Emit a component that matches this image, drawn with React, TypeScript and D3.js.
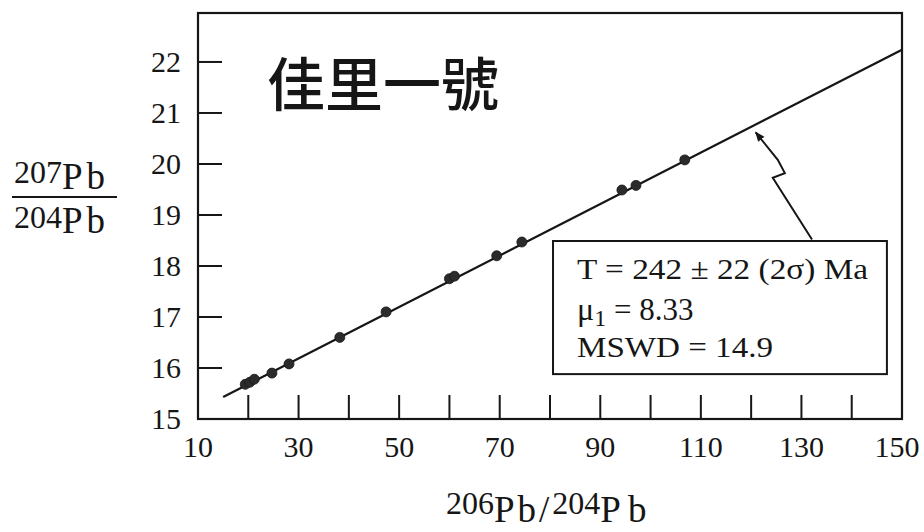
import React from "react";
import * as d3 from "d3";

// ---- data ----
const ratio206: number[] = [19.4, 20.3, 21.2, 24.7, 28.1, 38.2, 47.4, 60.0, 61.0, 69.4, 74.4, 94.3, 97.1, 106.8];
const ratio207: number[] = [15.68, 15.72, 15.78, 15.9, 16.08, 16.6, 17.1, 17.75, 17.8, 18.2, 18.47, 19.49, 19.58, 20.08];
const fitX: number[] = [15, 150];
const fitY: number[] = [15.43, 22.24];
const xTickMarks: number[] = [20, 30, 40, 50, 60, 70, 80, 90, 100, 110, 120, 130, 140];
const xTickLabels: number[] = [10, 30, 50, 70, 90, 110, 130, 150];
const yTickMarks: number[] = [16, 17, 18, 19, 20, 21, 22];
const yTickLabels: number[] = [15, 16, 17, 18, 19, 20, 21, 22];
const titleText = "佳里一號";
const statLines: string[] = ["T = 242 ± 22 (2σ) Ma", "μ", "MSWD = 14.9"];
// leader line from box to regression line (data coords)
const leaderX: number[] = [132.1, 124.3, 126.7, 125.3, 120.9];
const leaderY: number[] = [18.52, 19.73, 19.82, 20.08, 20.62];
// stat box extents (data coords)
const boxX: number[] = [80.6, 147.0];
const boxY: number[] = [18.49, 15.88];

const serif = "'Liberation Serif', 'DejaVu Serif', serif";
const ink = "#161616";

export default function App() {
  const x = d3.scaleLinear().domain([10, 150]).range([198, 902]);
  const y = d3.scaleLinear().domain([15, 22.96]).range([419, 13]);

  const fitLine = d3
    .line<number>()
    .x((_, i) => x(fitX[i]))
    .y((_, i) => y(fitY[i]))(fitX);

  const leader = d3
    .line<number>()
    .x((_, i) => x(leaderX[i]))
    .y((_, i) => y(leaderY[i]))(leaderX);

  const bx0 = x(boxX[0]);
  const bx1 = x(boxX[1]);
  const by0 = y(boxY[0]);
  const by1 = y(boxY[1]);

  return (
    <svg
      width={924}
      height={532}
      style={{ position: "absolute", left: 0, top: 0, background: "#fff" }}
    >
      <defs>
        <marker
          id="arr"
          viewBox="0 0 10 10"
          refX="9"
          refY="5"
          markerWidth="5"
          markerHeight="5"
          orient="auto"
        >
          <path d="M0,1 L10,5 L0,9 z" fill={ink} />
        </marker>
      </defs>

      {/* frame */}
      <rect
        x={x(10)}
        y={y(22.96)}
        width={x(150) - x(10)}
        height={y(15) - y(22.96)}
        fill="none"
        stroke={ink}
        strokeWidth={2.2}
      />

      {/* y ticks */}
      {yTickMarks.map((v) => (
        <line key={"yt" + v} x1={x(10)} x2={x(10) + 24} y1={y(v)} y2={y(v)} stroke={ink} strokeWidth={2} />
      ))}
      {yTickLabels.map((v) => (
        <text
          key={"yl" + v}
          x={181}
          y={y(v) + 10}
          textAnchor="end"
          fontFamily={serif}
          fontSize={30}
          fill={ink}
        >
          {v}
        </text>
      ))}

      {/* x ticks */}
      {xTickMarks.map((v) => (
        <line key={"xt" + v} x1={x(v)} x2={x(v)} y1={y(15)} y2={y(15) - 24} stroke={ink} strokeWidth={2} />
      ))}
      {xTickLabels.map((v) => (
        <text
          key={"xl" + v}
          x={x(v) - (v === 150 ? 5 : 0)}
          y={457}
          textAnchor="middle"
          fontFamily={serif}
          fontSize={30}
          fill={ink}
        >
          {v}
        </text>
      ))}

      {/* regression line */}
      <path d={fitLine ?? ""} fill="none" stroke={ink} strokeWidth={2.2} />

      {/* data points */}
      {ratio206.map((v, i) => (
        <circle key={"p" + i} cx={x(v)} cy={y(ratio207[i])} r={5} fill="#2b2b2b" stroke={ink} strokeWidth={0.8} />
      ))}

      {/* title */}
      <text
        x={267}
        y={106}
        fontFamily="'Noto Sans CJK TC', 'Noto Sans CJK SC', sans-serif"
        fontSize={58}
        fontWeight={500}
        fill={ink}
      >
        {titleText}
      </text>

      {/* leader line */}
      <path d={leader ?? ""} fill="none" stroke={ink} strokeWidth={2} markerEnd="url(#arr)" />

      {/* stat box */}
      <rect x={bx0} y={by0} width={bx1 - bx0} height={by1 - by0} fill="#fff" stroke={ink} strokeWidth={2} />
      <text x={bx0 + 24} y={by0 + 38} fontFamily={serif} fontSize={30} fill={ink} textLength={291} lengthAdjust="spacingAndGlyphs">
        {statLines[0]}
      </text>
      <text x={bx0 + 24} y={by0 + 79} fontFamily={serif} fontSize={32} fill={ink}>
        {statLines[1]}
        <tspan fontSize={24} dy={6}>1</tspan>
        <tspan dy={-6} fontSize={31}> = 8.33</tspan>
      </text>
      <text x={bx0 + 24} y={by0 + 116} fontFamily={serif} fontSize={30} fill={ink} textLength={196} lengthAdjust="spacingAndGlyphs">
        {statLines[2]}
      </text>

      {/* y axis label (fraction) */}
      <text x={14} y={189} fontFamily={serif} fill={ink}>
        <tspan fontSize={32} dy={-6}>207</tspan>
        <tspan fontSize={37} dy={6} letterSpacing={4}>Pb</tspan>
      </text>
      <line x1={12} x2={117} y1={197} y2={197} stroke={ink} strokeWidth={2} />
      <text x={14} y={233} fontFamily={serif} fill={ink}>
        <tspan fontSize={32} dy={-5}>204</tspan>
        <tspan fontSize={37} dy={5} letterSpacing={4}>Pb</tspan>
      </text>

      {/* x axis label */}
      <text x={446} y={522} fontFamily={serif} fill={ink}>
        <tspan fontSize={32} dy={-8}>206</tspan>
        <tspan fontSize={37} dy={8} letterSpacing={3}>Pb/</tspan>
        <tspan fontSize={32} dy={-8}>204</tspan>
        <tspan fontSize={37} dy={8} letterSpacing={7}>Pb</tspan>
      </text>
    </svg>
  );
}
